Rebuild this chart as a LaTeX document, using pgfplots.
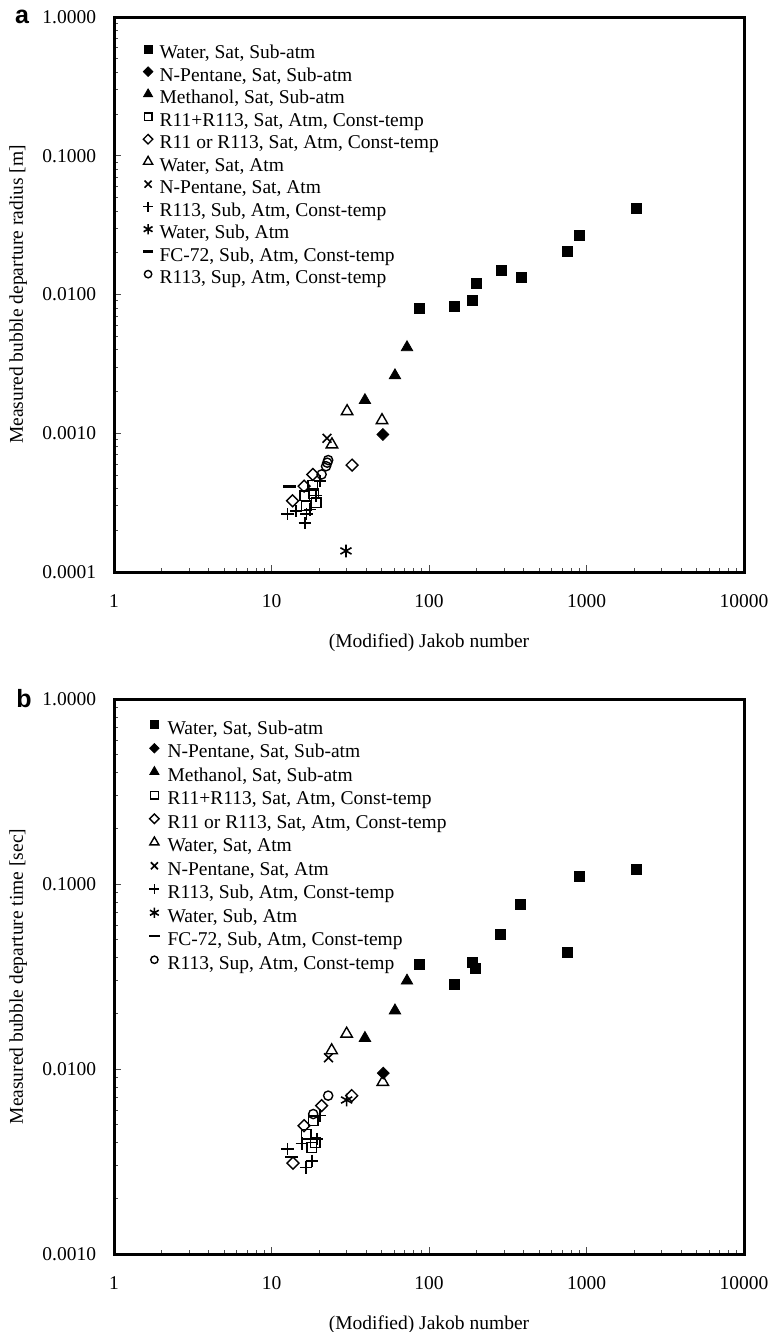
\documentclass[border=0pt]{standalone}
\usepackage{fontspec}
\setmainfont{Liberation Serif}
\newfontfamily\panelfont{Liberation Sans}
\usepackage{pgfplots}
\pgfplotsset{compat=1.18}
\newcommand{\fnt}{\fontsize{9.75bp}{11bp}\selectfont}
\pgfplotsset{
  sA/.style={only marks, mark=square*, mark size=2.5bp, black, mark options={fill=black}},
  sB/.style={only marks, mark=square*, mark size=2.1bp, black, mark options={fill=black, rotate=45}},
  sC/.style={only marks, mark=triangle*, mark size=3.3bp, black, mark options={fill=black}},
  sD/.style={only marks, mark=square, mark size=2.4bp, black, mark options={line width=0.7bp}},
  sE/.style={only marks, mark=square, mark size=2.1bp, black, mark options={line width=0.7bp, rotate=45}},
  sF/.style={only marks, mark=triangle, mark size=3.3bp, black, mark options={line width=0.7bp}},
  sG/.style={only marks, mark=x, mark size=3.1bp, black, mark options={line width=0.8bp}},
  sH/.style={only marks, mark=+, mark size=3.1bp, black, mark options={line width=0.8bp}},
  sI/.style={only marks, mark=asterisk, mark size=3.2bp, black, mark options={line width=0.8bp}},
  sJ/.style={only marks, mark=-, mark size=3.2bp, black, mark options={line width=1.2bp}},
  sK/.style={only marks, mark=o, mark size=2.3bp, black, mark options={line width=0.7bp}},
}
\begin{document}
\fnt
\begin{tikzpicture}
\path[use as bounding box] (0,0) rectangle (385bp,-666bp);
% ---------------- panel a ----------------
\begin{axis}[
  at={(57bp,-8.5bp)}, anchor=north west,
  xmode=log, ymode=log,
  scale only axis, width=315bp, height=277.5bp,
  xmin=1, xmax=10000,
  xtick={1,10,100,1000,10000},
  xticklabels={1,10,100,1000,10000},
  ymin=0.0001, ymax=1,
  ytick={0.0001,0.001,0.01,0.1,1},
  yticklabels={0.0001,0.0010,0.0100,0.1000,1.0000},
  tick pos=left, tick align=inside,
  axis line style={line width=1.5bp},
  major tick length=3.5bp, minor tick length=2.2bp,
  tick style={black!70, line width=0.4bp},
  tick label style={font=\fnt},
  yticklabel style={xshift=-5.5bp},
  xticklabel style={yshift=-8bp},
  label style={font=\fnt},
  xlabel={(Modified) Jakob number},
  xlabel style={at={(axis description cs:0.5,-0.1265)}, anchor=center},
  ylabel={Measured bubble departure radius [m]},
  ylabel style={at={(axis description cs:-0.152,0.5)}, anchor=center},
  legend cell align=left,
  legend image code/.code={\draw[#1,/tikz/every mark/.append style={scale=0.8}] plot coordinates {(0bp,2.6bp)};},
  legend style={at={(axis description cs:0.046,0.953)}, anchor=north west,
    draw=none, fill=none, inner sep=0pt, outer sep=0pt,
    row sep=0pt, column sep=3.2bp, font=\fnt,
    nodes={inner sep=0pt, text height=7.75bp, text depth=3.5bp}},
  ]
\addplot[sA] coordinates {(86.4,0.0079) (146,0.0082) (188,0.0091) (199,0.0120) (287,0.0149) (384,0.0133) (752,0.0204) (896,0.0266) (2061,0.0416)};
\addlegendentry{Water, Sat, Sub-atm}
\addplot[sB] coordinates {(51.0,0.00098)};
\addlegendentry{N-Pentane, Sat, Sub-atm}
\addplot[sC] coordinates {(39.2,0.00173) (60.8,0.00261) (72.5,0.00416)};
\addlegendentry{Methanol, Sat, Sub-atm}
\addplot[sD] coordinates {(16.3,0.000355) (16.6,0.000300) (18.3,0.000421) (19.2,0.000316) (18.6,0.000367)};
\addlegendentry{R11+R113, Sat, Atm, Const-temp}
\addplot[sE] coordinates {(32.5,0.00059) (13.6,0.000326) (16.1,0.000416) (18.3,0.000505)};
\addlegendentry{R11 or R113, Sat, Atm, Const-temp}
\addplot[sF] coordinates {(30.2,0.00144) (50.3,0.00124) (24.2,0.00083)};
\addlegendentry{Water, Sat, Atm}
\addplot[sG] coordinates {(22.5,0.00092)};
\addlegendentry{N-Pentane, Sat, Atm}
\addplot[sH] coordinates {(12.6,0.000262) (14.3,0.000274) (16.3,0.000225) (16.7,0.000262) (17.6,0.000283) (19.2,0.000355) (20.3,0.000452)};
\addlegendentry{R113, Sub, Atm, Const-temp}
\addplot[sI] coordinates {(29.7,0.000142)};
\addlegendentry{Water, Sub, Atm}
\addplot[sJ] coordinates {(13.0,0.000413)};
\addlegendentry{FC-72, Sub, Atm, Const-temp}
\addplot[sK] coordinates {(22.9,0.000641) (22.6,0.000614) (22.2,0.000579) (20.8,0.000505)};
\addlegendentry{R113, Sup, Atm, Const-temp}
\end{axis}
% ---------------- panel b ----------------
\begin{axis}[
  at={(57bp,-349.5bp)}, anchor=north west,
  xmode=log, ymode=log,
  scale only axis, width=315bp, height=277.5bp,
  xmin=1, xmax=10000,
  xtick={1,10,100,1000,10000},
  xticklabels={1,10,100,1000,10000},
  ymin=0.001, ymax=1,
  ytick={0.001,0.01,0.1,1},
  yticklabels={0.0010,0.0100,0.1000,1.0000},
  tick pos=left, tick align=inside,
  axis line style={line width=1.5bp},
  major tick length=3.5bp, minor tick length=2.2bp,
  tick style={black!70, line width=0.4bp},
  tick label style={font=\fnt},
  yticklabel style={xshift=-5.5bp},
  xticklabel style={yshift=-8bp},
  label style={font=\fnt},
  xlabel={(Modified) Jakob number},
  xlabel style={at={(axis description cs:0.5,-0.1265)}, anchor=center},
  ylabel={Measured bubble departure time [sec]},
  ylabel style={at={(axis description cs:-0.152,0.5)}, anchor=center},
  legend cell align=left,
  legend image code/.code={\draw[#1,/tikz/every mark/.append style={scale=0.8}] plot coordinates {(0bp,2.6bp)};},
  legend style={at={(axis description cs:0.056,0.9654)}, anchor=north west,
    draw=none, fill=none, inner sep=0pt, outer sep=0pt,
    row sep=0pt, column sep=4bp, font=\fnt,
    nodes={inner sep=0pt, text height=8.1bp, text depth=3.65bp}},
  ]
\addplot[sA] coordinates {(86.4,0.037) (146,0.0286) (188,0.0375) (198,0.0352) (285,0.0534) (382,0.0776) (755,0.0425) (901,0.110) (2061,0.120)};
\addlegendentry{Water, Sat, Sub-atm}
\addplot[sB] coordinates {(51.3,0.0095)};
\addlegendentry{N-Pentane, Sat, Sub-atm}
\addplot[sC] coordinates {(39.2,0.0147) (60.8,0.0207) (72.5,0.030)};
\addlegendentry{Methanol, Sat, Sub-atm}
\addplot[sD] coordinates {(18.4,0.00526) (16.6,0.00445) (18.9,0.00401) (18.0,0.00377)};
\addlegendentry{R11+R113, Sat, Atm, Const-temp}
\addplot[sE] coordinates {(32.3,0.00718) (20.8,0.00634) (16.1,0.00494) (13.7,0.00310)};
\addlegendentry{R11 or R113, Sat, Atm, Const-temp}
\addplot[sF] coordinates {(30.0,0.0155) (24.1,0.0126) (50.9,0.0085)};
\addlegendentry{Water, Sat, Atm}
\addplot[sG] coordinates {(23.0,0.0115)};
\addlegendentry{N-Pentane, Sat, Atm}
\addplot[sH] coordinates {(20.3,0.0056) (15.6,0.00396) (19.5,0.00418) (12.6,0.00369) (18.0,0.00319) (16.6,0.00294)};
\addlegendentry{R113, Sub, Atm, Const-temp}
\addplot[sI] coordinates {(30.0,0.0068)};
\addlegendentry{Water, Sub, Atm}
\addplot[sJ] coordinates {(13.4,0.00335)};
\addlegendentry{FC-72, Sub, Atm, Const-temp}
\addplot[sK] coordinates {(22.9,0.00718) (18.4,0.00571)};
\addlegendentry{R113, Sup, Atm, Const-temp}
\end{axis}
\node[font=\panelfont\bfseries\fontsize{12.5bp}{13bp}\selectfont, anchor=center] at (11bp,-8.5bp) {a};
\node[font=\panelfont\bfseries\fontsize{12.5bp}{13bp}\selectfont, anchor=center] at (12bp,-349.5bp) {b};
\end{tikzpicture}
\end{document}
